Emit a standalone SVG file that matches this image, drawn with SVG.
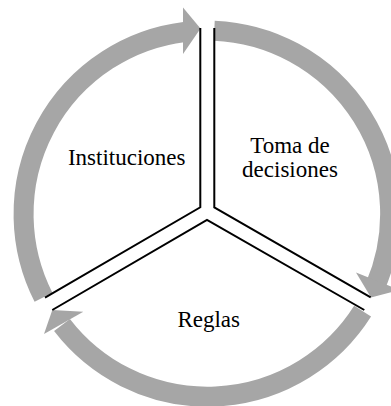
<svg xmlns="http://www.w3.org/2000/svg" width="391" height="406" viewBox="0 0 391 406">
<style>
.band{fill:none;stroke:#a6a6a6;stroke-width:20;stroke-linecap:butt}
.head{fill:#a6a6a6;stroke:none}
.div{fill:none;stroke:#000;stroke-width:2;stroke-linejoin:miter}
.lbl{font-family:"Liberation Serif","Times New Roman",serif;font-size:23px;fill:#000;text-anchor:middle}
</style>
<rect width="391" height="406" fill="#fff"/>
<g id="connectors">
<path class="band" d="M43.5,297.3 A183.5,183.5 0 0 1 184.5,32"/>
<polygon class="head" points="183,7.5 200.5,28.5 183,54"/>
<path class="band" d="M214.3,30.65 A183.5,183.5 0 0 1 375,287"/>
<polygon class="head" points="356,272.5 371,297.5 399.6,290"/>
<path class="band" d="M362.6,311.2 A183.5,183.5 0 0 1 62,325"/>
<polygon class="head" points="83.3,311.7 52.3,310 44,334"/>
</g>
<g id="dividers">
<polyline class="div" points="200.3,28 200.3,207.3 45,297.7"/>
<polyline class="div" points="214.3,28 214.3,207.3 370.7,297.3"/>
<polyline class="div" points="52.3,310 207,220 364.3,310"/>
</g>
<g id="instituciones"><text class="lbl" x="126.7" y="165">Instituciones</text></g>
<g id="toma-de-decisiones"><text class="lbl" x="290" y="153.3">Toma de</text><text class="lbl" x="290" y="177.3">decisiones</text></g>
<g id="reglas"><text class="lbl" x="208.7" y="327">Reglas</text></g>
</svg>
